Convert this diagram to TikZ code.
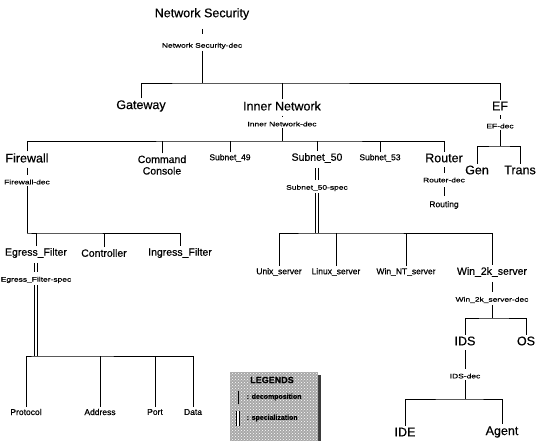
\documentclass[tikz,border=0pt]{standalone}
\usepackage{fontspec}
\setmainfont{Liberation Sans}[FakeBold=0.5]
\newfontfamily\decfont{Liberation Sans}[FakeStretch=1.3, FakeBold=0.5]
\usetikzlibrary{positioning, patterns}
\definecolor{legendGray}{HTML}{A8A8A8}
\definecolor{legendEdge}{HTML}{3A3A3A}

\begin{document}
\begin{tikzpicture}[
  x=1pt, y=-1pt,
  line width=0.9pt,
  big/.style={inner sep=1.5pt, align=center, font=\fontsize{12.5}{13}\selectfont},
  mid/.style={inner sep=1.5pt, align=center, font=\fontsize{10.5}{11.5}\selectfont},
  small/.style={inner sep=1.5pt, font=\fontsize{8.5}{9}\selectfont},
  dec/.style={inner sep=1.5pt, font=\decfont\fontsize{6.5}{7}\selectfont},
  dectick/.style={line width=0.8pt, shorten <=#1, shorten >=#1},
  dectick/.default=4pt,
  spec/.style={double, double distance=2.2pt, line width=0.7pt},
  legendtext/.style={font=\fontsize{7}{8}\selectfont\bfseries, anchor=west}
]
\useasboundingbox (0,0) rectangle (538,441);

% ---------- ROOT: NETWORK SECURITY ----------
\node[big] (ns) at (202,14) {Network Security};
\node[dec] (nsdec) at (202,46) {Network Security-dec};
\draw[dectick=7pt] (ns.south) -- (nsdec.north);

\node[big] (gw) at (141,106) {Gateway};
\node[big] (in) at (282,106) {Inner Network};
\node[big] (ef) at (500,106) {EF};

\coordinate (b0) at (202,83);
\draw (nsdec.south) -- (b0);
\draw (gw.north) |- (b0) -| (ef.north);
\draw (in.north) -- (in.north |- b0);

% ---------- EF ----------
\node[dec] (efdec) at (500,126) {EF-dec};
\draw[dectick=3pt] (ef.south) -- (efdec.north);
\node[big] (gen) at (477,170) {Gen};
\node[big] (trans) at (520,170) {Trans};

\coordinate (b2) at (500,146);
\draw (efdec.south) -- (b2);
\draw (gen.north) |- (b2) -| (trans.north);

% ---------- INNER NETWORK ----------
\node[dec] (indec) at (282,124) {Inner Network-dec};
\draw[dectick=3pt] (in.south) -- (indec.north);

\node[big] (fw) at (27,158) {Firewall};
\node[mid] (cc) at (162,165) {Command\\Console};
\node[small] (s49) at (230,158) {Subnet\_49};
\node[mid] (s50) at (317,158) {Subnet\_50};
\node[small] (s53) at (380,158) {Subnet\_53};
\node[big] (rt) at (444,158) {Router};

\coordinate (b1) at (282,141);
\draw (indec.south) -- (b1);
\draw (fw.north) |- (b1) -| (rt.north);
\foreach \n in {cc,s49,s50,s53}
  \draw (\n.north) -- (\n.north |- b1);

% ---------- FIREWALL ----------
\node[dec] (fwdec) at (27,182) {Firewall-dec};
\draw[dectick=3pt] (fw.south) -- (fwdec.north);

\node[mid] (eg) at (36,253) {Egress\_Filter};
\node[mid] (ctl) at (104,253) {Controller};
\node[mid] (ing) at (180,253) {Ingress\_Filter};

\coordinate (b3) at (27,233);
\draw (fwdec.south) -- (b3);
\draw (eg.north) |- (b3) -| (ing.north);
\draw (ctl.north) -- (ctl.north |- b3);

% ---------- EGRESS FILTER ----------
\node[dec] (egspec) at (36,280) {Egress\_Filter-spec};
\draw[spec, shorten <=3pt, shorten >=3pt] (eg.south) -- (egspec.north);

\node[small] (proto) at (26,412) {Protocol};
\node[small] (addr) at (100,412) {Address};
\node[small] (port) at (155,412) {Port};
\node[small] (data) at (193,412) {Data};

\coordinate (b4) at (36,356);
\draw[spec] (egspec.south) -- (b4);
\draw (proto.north) |- (b4) -| (data.north);
\foreach \n in {addr,port}
  \draw (\n.north) -- (\n.north |- b4);

% ---------- SUBNET 50 ----------
\node[dec] (s50spec) at (317,188) {Subnet\_50-spec};
\draw[spec, shorten <=3pt, shorten >=3pt] (s50.south) -- (s50spec.north);

\node[small] (unix) at (279,272) {Unix\_server};
\node[small] (linux) at (336,272) {Linux\_server};
\node[small] (wnt) at (406,272) {Win\_NT\_server};
\node[mid] (w2k) at (492,272) {Win\_2k\_server};

\coordinate (b5) at (317,233);
\draw[spec] (s50spec.south) -- (b5);
\draw (unix.north) |- (b5) -| (w2k.north);
\foreach \n in {linux,wnt}
  \draw (\n.north) -- (\n.north |- b5);

% ---------- ROUTER ----------
\node[dec] (rtdec) at (444,180) {Router-dec};
\node[small] (routing) at (444,205) {Routing};
\draw[dectick=3pt] (rt.south) -- (rtdec.north);
\draw[dectick=3pt] (rtdec.south) -- (routing.north);

% ---------- WIN 2K SERVER ----------
\node[dec] (w2kdec) at (492,300) {Win\_2k\_server-dec};
\draw[dectick=3pt] (w2k.south) -- (w2kdec.north);

\node[big] (ids) at (465,341) {IDS};
\node[big] (os) at (526,341) {OS};

\coordinate (b6) at (492,318);
\draw (w2kdec.south) -- (b6);
\draw (ids.north) |- (b6) -| (os.north);

% ---------- IDS ----------
\node[dec] (idsdec) at (465,376) {IDS-dec};
\draw[dectick=3pt] (ids.south) -- (idsdec.north);

\node[big] (ide) at (405,432) {IDE};
\node[big] (agent) at (502,432) {Agent};

\coordinate (b7) at (465,399);
\draw (idsdec.south) -- (b7);
\draw (ide.north) |- (b7) -| (agent.north);

% ---------- LEGENDS ----------
\fill[legendEdge] (233,375) rectangle (321,444);
\fill[legendGray] (230,372) rectangle (318,441);
\fill[pattern=crosshatch dots, pattern color=white] (230,372) rectangle (318,441);
\node[font=\fontsize{9}{10}\selectfont\bfseries] (leg) at (272,380) {LEGENDS};
\coordinate (l1a) at (238,391);
\coordinate (l1b) at (238,404);
\coordinate (l2a) at (238,411);
\coordinate (l2b) at (238,426);
\draw (l1a) -- (l1b);
\draw[spec] (l2a) -- (l2b);
\node[legendtext] (lgdec) at (243,397) {: decomposition};
\node[legendtext] (lgspec) at (243,418) {: specialization};

\end{tikzpicture}
\end{document}
